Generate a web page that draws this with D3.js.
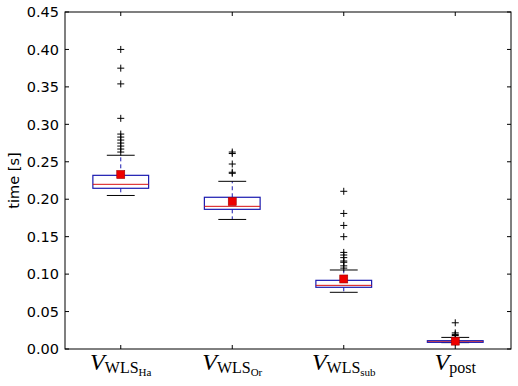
<!DOCTYPE html>
<html>
<head>
<meta charset="utf-8">
<script src="https://cdn.jsdelivr.net/npm/d3@7"></script>
<style>
  body { margin: 0; background: #fff; }
  svg { display: block; }
</style>
</head>
<body>
<svg id="chart"></svg>
<script>
// categories: main symbol + subscript + sub-subscript
const labels = [
  { sub: 'WLS', subsub: 'Ha' },
  { sub: 'WLS', subsub: 'Or' },
  { sub: 'WLS', subsub: 'sub' },
  { sub: 'post', subsub: null }
];
const whiskerLow = [0.205, 0.173, 0.0757, 0.0085];
const q1 = [0.2146, 0.1865, 0.0824, 0.0089];
const median = [0.2199, 0.1905, 0.085, 0.0100];
const q3 = [0.2319, 0.2026, 0.0917, 0.0111];
const whiskerHigh = [0.2587, 0.2239, 0.1055, 0.0155];
const means = [0.233, 0.197, 0.0935, 0.0105];
const outliers = [
  [0.400, 0.375, 0.354, 0.308, 0.287, 0.283, 0.279, 0.275, 0.271, 0.267, 0.263],
  [0.263, 0.261, 0.247, 0.236, 0.2346],
  [0.2106, 0.181, 0.165, 0.150, 0.129, 0.1255, 0.122, 0.1175, 0.1158, 0.111, 0.108],
  [0.035, 0.0215, 0.0195, 0.018]
];
const yTicks = d3.range(0, 0.451, 0.05);

const W = 518, H = 386;
const margin = { top: 12, right: 7, bottom: 37, left: 65 };
const width = W - margin.left - margin.right;
const height = H - margin.top - margin.bottom;

const svg = d3.select('#chart').attr('width', W).attr('height', H);
const g = svg.append('g').attr('transform', `translate(${margin.left},${margin.top})`);

const x = d3.scaleLinear().domain([0.5, 4.5]).range([0, width]);
const y = d3.scaleLinear().domain([0, 0.45]).range([height, 0]);

const boxBlue = '#1a1ab0';
const idx = d3.range(labels.length);
const boxW = x(1.25) - x(1);
const capW = x(1.125) - x(1);

idx.forEach((i) => {
  const cx = x(i + 1);
  // whiskers (dashed)
  g.append('line').attr('x1', cx).attr('x2', cx).attr('y1', y(q3[i])).attr('y2', y(whiskerHigh[i]))
    .attr('stroke', boxBlue).attr('stroke-width', 1).attr('stroke-dasharray', '4,3');
  g.append('line').attr('x1', cx).attr('x2', cx).attr('y1', y(q1[i])).attr('y2', y(whiskerLow[i]))
    .attr('stroke', boxBlue).attr('stroke-width', 1).attr('stroke-dasharray', '4,3');
  // caps
  [whiskerLow[i], whiskerHigh[i]].forEach((v) => {
    g.append('line').attr('x1', cx - capW).attr('x2', cx + capW).attr('y1', y(v)).attr('y2', y(v))
      .attr('stroke', '#000').attr('stroke-width', 1);
  });
  // box
  g.append('rect').attr('x', cx - boxW).attr('width', boxW * 2)
    .attr('y', y(q3[i])).attr('height', y(q1[i]) - y(q3[i]))
    .attr('fill', 'none').attr('stroke', boxBlue).attr('stroke-width', 1.2);
  // median
  g.append('line').attr('x1', cx - boxW).attr('x2', cx + boxW).attr('y1', y(median[i])).attr('y2', y(median[i]))
    .attr('stroke', '#d81010').attr('stroke-width', 1)
    .attr('stroke-opacity', i === 3 ? 0.6 : 1);
  // outliers
  outliers[i].forEach((v) => {
    const py = y(v);
    g.append('path').attr('d', `M${cx - 3.5},${py}H${cx + 3.5}M${cx},${py - 3.5}V${py + 3.5}`)
      .attr('stroke', '#000').attr('stroke-width', 1);
  });
  // mean
  g.append('rect').attr('x', cx - 4).attr('y', y(means[i]) - 4).attr('width', 8).attr('height', 8)
    .attr('fill', '#ee0000').attr('stroke', '#a00000').attr('stroke-width', 0.6);
});

// frame
g.append('rect').attr('width', width).attr('height', height)
  .attr('fill', 'none').attr('stroke', '#000').attr('stroke-width', 1);

// y ticks (inward, both sides)
yTicks.forEach((t) => {
  const py = y(t);
  g.append('line').attr('x1', 0).attr('x2', 4).attr('y1', py).attr('y2', py).attr('stroke', '#000');
  g.append('line').attr('x1', width - 4).attr('x2', width).attr('y1', py).attr('y2', py).attr('stroke', '#000');
  g.append('text').attr('x', -6).attr('y', py).attr('dy', '0.36em')
    .attr('text-anchor', 'end').style('font-family', 'DejaVu Sans').style('font-size', '14.5px')
    .text(d3.format('.2f')(t));
});

// x ticks (inward, top and bottom)
idx.forEach((i) => {
  const px = x(i + 1);
  g.append('line').attr('x1', px).attr('x2', px).attr('y1', height).attr('y2', height - 4).attr('stroke', '#000');
  g.append('line').attr('x1', px).attr('x2', px).attr('y1', 0).attr('y2', 4).attr('stroke', '#000');
  const t = g.append('text').attr('x', px).attr('y', height + 21)
    .attr('text-anchor', 'middle').style('font-family', 'Liberation Serif');
  t.append('tspan').style('font-style', 'italic').style('font-size', '24px').text('V');
  t.append('tspan').attr('dy', 3).style('font-size', '16px').text(labels[i].sub);
  if (labels[i].subsub) {
    t.append('tspan').attr('dy', 3).style('font-size', '11px').text(labels[i].subsub);
  }
});

// y label
g.append('text')
  .attr('transform', `translate(${-46},${height / 2}) rotate(-90)`)
  .attr('text-anchor', 'middle').style('font-family', 'DejaVu Sans').style('font-size', '14.5px')
  .text('time [s]');
</script>
</body>
</html>
